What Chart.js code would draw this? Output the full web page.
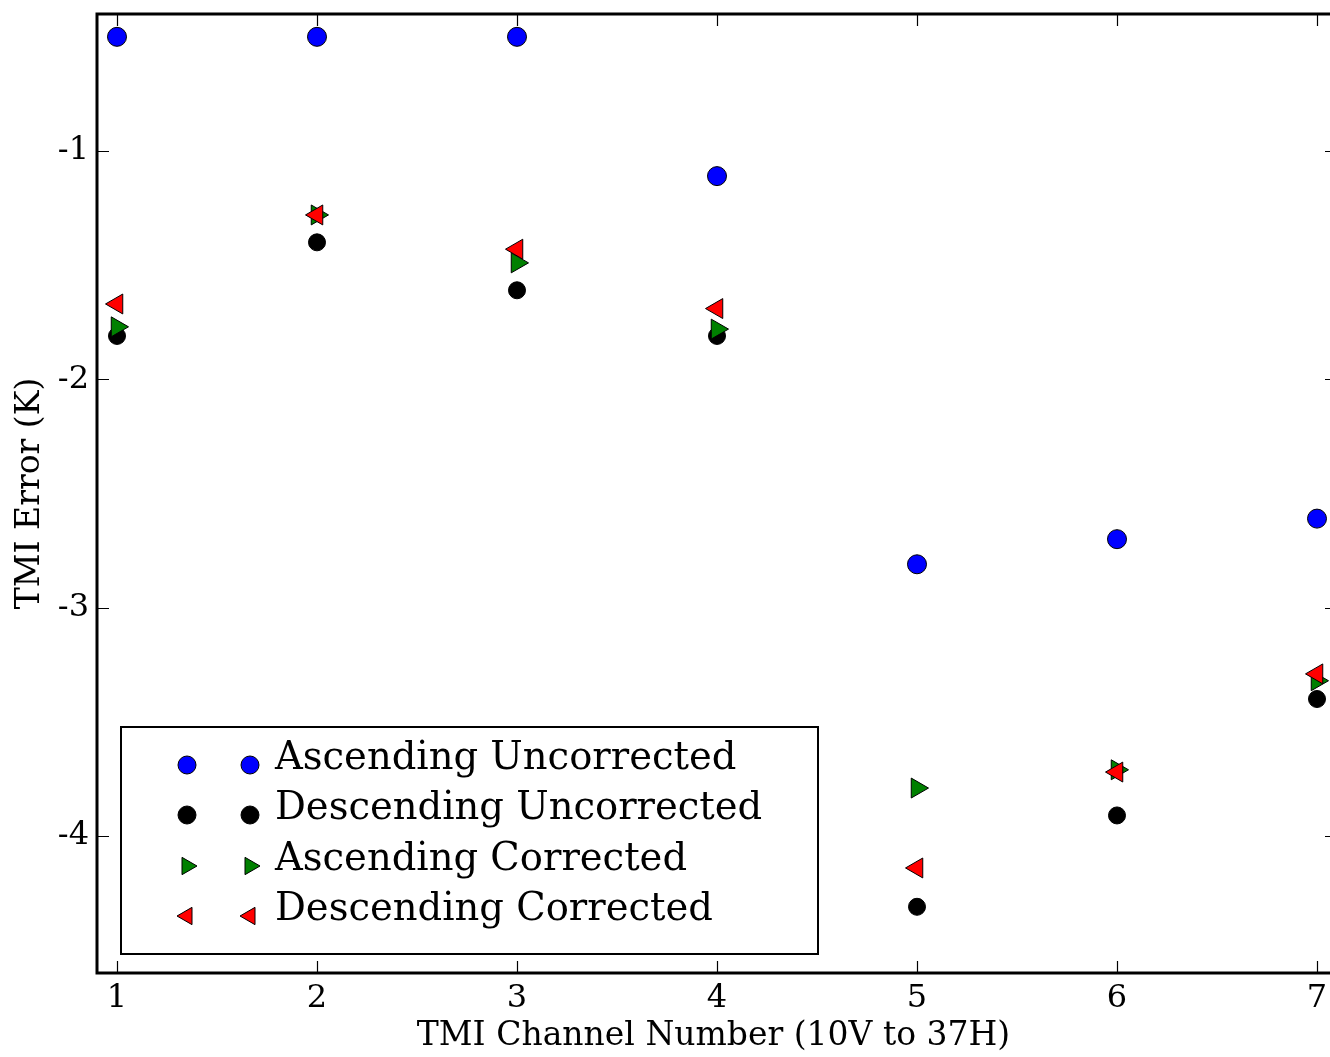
<!DOCTYPE html>
<html>
<head>
<meta charset="utf-8">
<script src="https://cdn.jsdelivr.net/npm/chart.js@4.4.1/dist/chart.umd.min.js"></script>
<style>
  html, body { margin: 0; padding: 0; background: #fff; overflow: hidden; }
  canvas { display: block; }
</style>
</head>
<body>
<canvas id="chart" width="1330" height="1057"></canvas>
<script>
// values
const channels = [1, 2, 3, 4, 5, 6, 7];
const ascUncorrected = [-0.5, -0.5, -0.5, -1.11, -2.81, -2.70, -2.61];
const descUncorrected = [-1.81, -1.40, -1.61, -1.81, -4.31, -3.91, -3.40];
const ascCorrected = [-1.77, -1.28, -1.49, -1.78, -3.79, -3.71, -3.32];
const descCorrected = [-1.67, -1.28, -1.43, -1.69, -4.14, -3.72, -3.29];
const seriesLabels = ['Ascending Uncorrected', 'Descending Uncorrected', 'Ascending Corrected', 'Descending Corrected'];

// the reference is cropped: axes run 0.9..7.1 but the picture stops near 7.065
const xMin = 0.9;
const xVisibleMax = 7.065;
const xFrameMax = 7.1;

const toPoints = (vals) => vals.map((v, i) => ({ x: channels[i], y: v }));

Chart.defaults.font.family = "'DejaVu Serif', serif";
Chart.defaults.color = '#000';

function makeSet(label, vals, color, style, radius, rotation, order) {
    return {
        label,
        data: toPoints(vals),
        backgroundColor: color,
        borderColor: '#000',
        borderWidth: 1,
        pointStyle: style,
        pointRadius: radius,
        pointRotation: rotation,
        order
    };
}

// frame with inward ticks on all four sides, matplotlib style
const framePlugin = {
    id: 'frame',
    afterDraw(chart) {
        const { ctx, chartArea: a, scales } = chart;
        const right = scales.x.getPixelForValue(xFrameMax);
        ctx.save();
        ctx.strokeStyle = '#000';
        ctx.lineWidth = 1.2;
        const len = 12;
        scales.x.ticks.forEach((t) => {
            const px = Math.round(scales.x.getPixelForValue(t.value)) + 0.5;
            ctx.beginPath();
            ctx.moveTo(px, a.bottom); ctx.lineTo(px, a.bottom - len);
            ctx.moveTo(px, a.top); ctx.lineTo(px, a.top + len);
            ctx.stroke();
        });
        scales.y.ticks.forEach((t) => {
            const py = Math.round(scales.y.getPixelForValue(t.value)) + 0.5;
            ctx.beginPath();
            ctx.moveTo(a.left, py); ctx.lineTo(a.left + len, py);
            ctx.moveTo(right, py); ctx.lineTo(right - len, py);
            ctx.stroke();
        });
        ctx.lineWidth = 3;
        ctx.strokeRect(a.left, a.top, right - a.left, a.bottom - a.top);
        ctx.restore();
    }
};

// legend drawn inside the plot, two markers per entry
const legendPlugin = {
    id: 'insideLegend',
    afterDraw(chart) {
        const { ctx } = chart;
        const box = { x: 121, y: 727, w: 697, h: 227 };
        ctx.save();
        ctx.fillStyle = '#fff';
        ctx.fillRect(box.x, box.y, box.w, box.h);
        ctx.strokeStyle = '#000';
        ctx.lineWidth = 2;
        ctx.strokeRect(box.x, box.y, box.w, box.h);
        ctx.font = "38.5px 'DejaVu Serif'";
        ctx.textBaseline = 'middle';
        const rowY = [765, 815, 866, 916];
        chart.data.datasets.forEach((ds, i) => {
            const r = ds.pointStyle === 'triangle' ? 10 : 9;
            [187, 250].forEach((mx) => {
                ctx.fillStyle = ds.backgroundColor;
                ctx.strokeStyle = '#000';
                ctx.lineWidth = 1;
                Chart.helpers.drawPoint(ctx, { pointStyle: ds.pointStyle, rotation: ds.pointRotation, radius: r, borderWidth: 1 }, mx, rowY[i]);
            });
            ctx.fillStyle = '#000';
            ctx.fillText(ds.label, 275, rowY[i] - 6);
        });
        ctx.restore();
    }
};

new Chart(document.getElementById('chart'), {
    type: 'scatter',
    data: {
        datasets: [
            makeSet(seriesLabels[0], ascUncorrected, '#0000ff', 'circle', 9.5, 0, 4),
            makeSet(seriesLabels[1], descUncorrected, '#000000', 'circle', 8.5, 0, 3),
            makeSet(seriesLabels[2], ascCorrected, '#008000', 'triangle', 11.5, 90, 2),
            makeSet(seriesLabels[3], descCorrected, '#ff0000', 'triangle', 11.5, -90, 1)
        ]
    },
    options: {
        responsive: false,
        animation: false,
        // autoPadding would reserve room for the point radius on the right
        layout: { autoPadding: false, padding: { top: 14, right: 0, left: 0, bottom: 0 } },
        plugins: { legend: { display: false }, tooltip: { enabled: false } },
        scales: {
            x: {
                type: 'linear',
                min: xMin,
                max: xVisibleMax,
                grid: { display: false, drawTicks: false },
                border: { display: false },
                ticks: { stepSize: 1, includeBounds: false, padding: 6, font: { size: 32 } },
                title: { display: true, text: 'TMI Channel Number (10V to 37H)', font: { size: 33 }, padding: { top: 0, bottom: 1 } },
                afterFit(scale) {
                    scale.height = 84;
                    scale.paddingLeft = 0;
                    scale.paddingRight = 0;
                }
            },
            y: {
                min: -4.6,
                max: -0.4,
                grid: { display: false, drawTicks: false },
                border: { display: false },
                ticks: { stepSize: 1, includeBounds: false, padding: 8, font: { size: 32 } },
                title: { display: true, text: 'TMI Error (K)', font: { size: 33 }, padding: { top: 11, bottom: 0 } },
                afterFit(scale) {
                    scale.width = 97;
                    scale.paddingTop = 0;
                    scale.paddingBottom = 0;
                }
            }
        }
    },
    plugins: [framePlugin, legendPlugin]
});
</script>
</body>
</html>
